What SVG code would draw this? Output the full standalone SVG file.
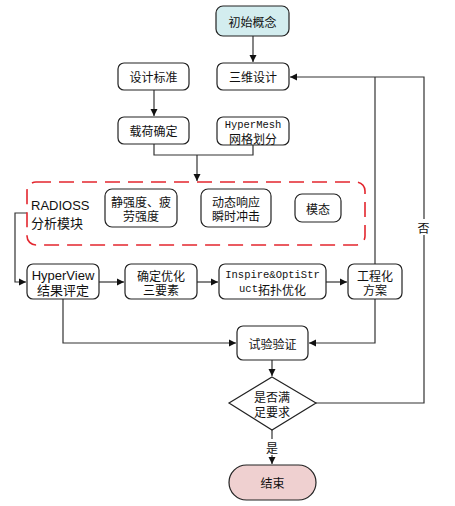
<svg xmlns="http://www.w3.org/2000/svg" width="455" height="506" viewBox="0 0 455 506">
<style>
.n{fill:#fff;stroke:#222;stroke-width:1.2}
.t{font-family:"Noto Sans CJK SC","Liberation Sans",sans-serif;font-size:12px;fill:#111;text-anchor:middle;dominant-baseline:central}
.s{font-family:"Liberation Sans","Noto Sans CJK SC",sans-serif;font-size:13px}
.m{font-family:"Liberation Mono","Noto Sans CJK SC",monospace;font-size:10.5px}
.c{fill:none;stroke:#333;stroke-width:1.2}
.lb{fill:#fff}
</style>
<defs>
<marker id="ah" markerWidth="8" markerHeight="8" refX="7" refY="4" orient="auto" markerUnits="userSpaceOnUse">
<path d="M0,0.5 L7,4 L0,7.5 Z" fill="#111"/>
</marker>
</defs>
<rect x="0" y="0" width="455" height="506" fill="#fff"/>
<g id="connectors">
<path class="c" d="M253,36 V62" marker-end="url(#ah)"/>
<path class="c" d="M154,90 V116" marker-end="url(#ah)"/>
<path class="c" d="M154,144 V155 H253 V145"/>
<path class="c" d="M197,155 V181" marker-end="url(#ah)"/>
<path class="c" d="M27,213 H15 V282 H26" marker-end="url(#ah)"/>
<path class="c" d="M99,282 H124" marker-end="url(#ah)"/>
<path class="c" d="M197,282 H218" marker-end="url(#ah)"/>
<path class="c" d="M326,282 H347" marker-end="url(#ah)"/>
<path class="c" d="M63,299 V343 H236" marker-end="url(#ah)"/>
<path class="c" d="M375,299 V343 H309" marker-end="url(#ah)"/>
<path class="c" d="M375,264 V77"/>
<path class="c" d="M316,403 H424 V77 H290" marker-end="url(#ah)"/>
<path class="c" d="M272,360 V376" marker-end="url(#ah)"/>
<path class="c" d="M272,430 V464" marker-end="url(#ah)"/>
<rect class="lb" x="416" y="219" width="15" height="16"/>
<text class="t" x="423.5" y="227">否</text>
<rect class="lb" x="265" y="439" width="15" height="16"/>
<text class="t" x="272" y="447">是</text>
</g>
<g id="n1"><rect class="n" x="216" y="6" width="73" height="30" rx="7" fill="#d3edef" style="fill:#d3edef"/><text class="t" x="252.5" y="21">初始概念</text></g>
<g id="n2"><rect class="n" x="217" y="63" width="72" height="27" rx="6"/><text class="t" x="253" y="76.5">三维设计</text></g>
<g id="n3"><rect class="n" x="118" y="63" width="71" height="27" rx="6"/><text class="t" x="153.5" y="76.5">设计标准</text></g>
<g id="n4"><rect class="n" x="118" y="117" width="71" height="27" rx="6"/><text class="t" x="153.5" y="130.5">载荷确定</text></g>
<g id="n5"><rect class="n" x="217" y="117" width="72" height="28" rx="6"/><text class="t m" x="253" y="124.5">HyperMesh</text><text class="t" x="253" y="138">网格划分</text></g>
<g id="group">
<rect x="27" y="182" width="338" height="63" rx="9" fill="none" stroke="#e3262e" stroke-width="1.6" stroke-dasharray="15,8"/>
<text class="t s" x="31" y="205" style="text-anchor:start">RADIOSS</text>
<text class="t" x="31" y="222" style="text-anchor:start;font-size:13px">分析模块</text>
</g>
<g id="n6"><rect class="n" x="105" y="189" width="72" height="38" rx="7"/><text class="t" x="141" y="201">静强度、疲</text><text class="t" x="141" y="215">劳强度</text></g>
<g id="n7"><rect class="n" x="201" y="189" width="70" height="38" rx="7"/><text class="t" x="236" y="201">动态响应</text><text class="t" x="236" y="215">瞬时冲击</text></g>
<g id="n8"><rect class="n" x="295" y="194" width="46" height="28" rx="7"/><text class="t" x="318" y="208">模态</text></g>
<g id="n9"><rect class="n" x="27" y="264" width="72" height="35" rx="6"/><text class="t s" x="63" y="275">HyperView</text><text class="t" x="63" y="289" style="font-size:13px">结果评定</text></g>
<g id="n10"><rect class="n" x="125" y="264" width="72" height="35" rx="6"/><text class="t" x="161" y="275">确定优化</text><text class="t" x="161" y="289">三要素</text></g>
<g id="n11"><rect class="n" x="219" y="264" width="107" height="35" rx="6"/><text class="t m" x="272.5" y="275">Inspire&amp;OptiStr</text><text class="t" x="272.5" y="289"><tspan class="m">uct</tspan>拓扑优化</text></g>
<g id="n12"><rect class="n" x="348" y="264" width="54" height="35" rx="6"/><text class="t" x="375" y="275">工程化</text><text class="t" x="375" y="289">方案</text></g>
<g id="n13"><rect class="n" x="237" y="326" width="71" height="34" rx="6"/><text class="t" x="272.5" y="343">试验验证</text></g>
<g id="n14"><path class="n" d="M272,377 L316,403 L272,430 L229,403 Z"/><text class="t" x="272" y="396">是否满</text><text class="t" x="272" y="411">足要求</text></g>
<g id="n15"><rect class="n" x="229" y="465" width="87" height="35" rx="17.5" style="fill:#efd0d0"/><text class="t" x="272.5" y="482.5">结束</text></g>
</svg>
